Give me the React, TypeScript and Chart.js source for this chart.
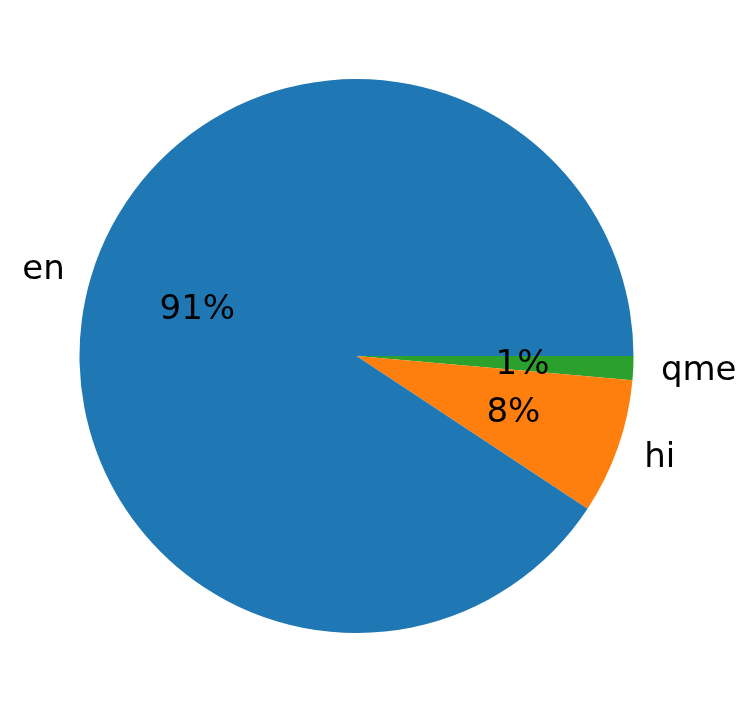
import React, { useEffect, useRef } from "react";
import { Chart, registerables } from "chart.js";

Chart.register(...registerables);

// Order follows matplotlib's counter-clockwise from 3 o'clock, reversed for Chart.js clockwise drawing
const categories = ["qme", "hi", "en"];
const values = [1.4, 7.9, 90.7];
const colors = ["#2ca02c", "#ff7f0e", "#1f77b4"];

const FONT = '34px "DejaVu Sans"';

const labelPlugin = {
  id: "pieLabels",
  afterDraw(chart: any) {
    const ctx = chart.ctx;
    const meta = chart.getDatasetMeta(0);
    const data = chart.data.datasets[0].data as number[];
    const total = data.reduce((a, b) => a + b, 0);
    ctx.save();
    ctx.font = FONT;
    ctx.fillStyle = "#000000";
    ctx.textBaseline = "middle";
    const dy = 2;
    meta.data.forEach((arc: any, i: number) => {
      const { x, y, startAngle, endAngle, outerRadius } = arc.getProps(
        ["x", "y", "startAngle", "endAngle", "outerRadius"],
        true
      );
      const mid = (startAngle + endAngle) / 2;
      const cx = Math.cos(mid);
      const cy = Math.sin(mid);
      // category label at 1.1 r
      const lx = x + cx * outerRadius * 1.1;
      const ly = y + cy * outerRadius * 1.1;
      ctx.textAlign = cx > 0 ? "left" : "right";
      ctx.fillText(String(chart.data.labels[i]), lx, ly + dy);
      // percent label at 0.6 r
      const px = x + cx * outerRadius * 0.6;
      const py = y + cy * outerRadius * 0.6;
      ctx.textAlign = "center";
      ctx.fillText(Math.round((data[i] / total) * 100) + "%", px, py + dy);
    });
    ctx.restore();
  },
};

export default function App() {
  const ref = useRef<HTMLCanvasElement>(null);
  useEffect(() => {
    if (!ref.current) return;
    const chart = new Chart(ref.current, {
      type: "pie",
      data: {
        labels: categories,
        datasets: [
          {
            data: values,
            backgroundColor: colors,
            borderWidth: 0,
          },
        ],
      },
      options: {
        responsive: false,
        animation: false,
        rotation: 90,
        layout: { padding: { left: 79, right: 114, top: 79, bottom: 80 } },
        plugins: {
          legend: { display: false },
          tooltip: { enabled: false },
        },
      },
      plugins: [labelPlugin],
    });
    return () => chart.destroy();
  }, []);
  return (
    <div style={{ position: "fixed", left: 0, top: 0, width: 748, height: 713, background: "#fff" }}>
      <canvas ref={ref} width={748} height={713} style={{ width: 748, height: 713 }} />
    </div>
  );
}
